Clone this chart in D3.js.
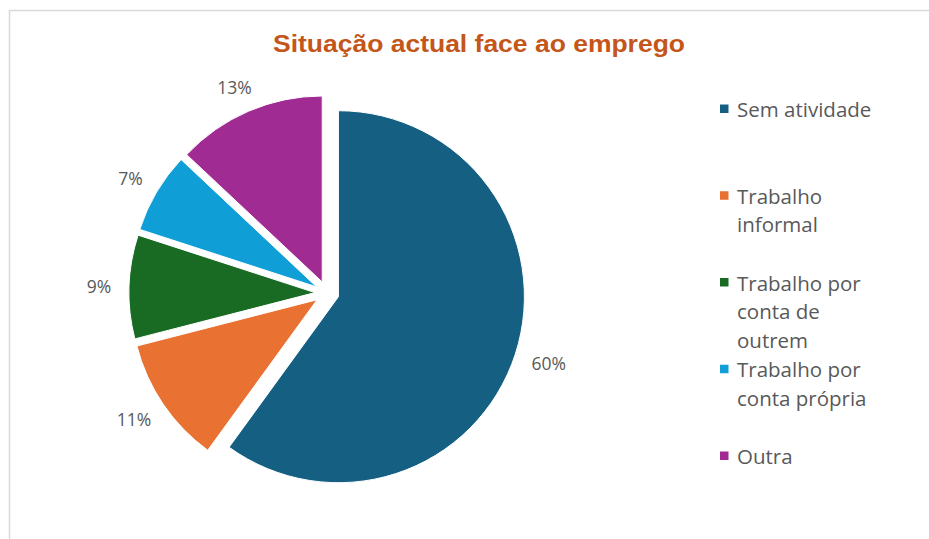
<!DOCTYPE html>
<html>
<head>
<meta charset="utf-8">
<script src="https://cdn.jsdelivr.net/npm/d3@7"></script>
<style>
  html, body { margin: 0; padding: 0; background: #ffffff; }
  svg { display: block; }
</style>
</head>
<body>
<svg id="chart" width="929" height="539"></svg>
<script>
// ---- data ----
const title = "Situação actual face ao emprego";
const categories = ["Sem atividade", "Trabalho informal", "Trabalho por conta de outrem", "Trabalho por conta própria", "Outra"];
const values = [60, 11, 9, 7, 13];
const colors = ["#156082", "#E97132", "#196B24", "#0F9ED5", "#A02B93"];

// ---- layout ----
const W = 929, H = 539;
const cx = 327, cy = 293, R = 186, explode = 12;
const svg = d3.select("#chart");

// chart area border
svg.append("rect")
  .attr("x", 9.5).attr("y", 10.5)
  .attr("width", W + 20).attr("height", H + 20)
  .attr("fill", "#ffffff")
  .attr("stroke", "#d9d9d9").attr("stroke-width", 1.5);

// title
const t = svg.append("text")
  .attr("x", 479).attr("y", 52)
  .attr("text-anchor", "middle")
  .attr("font-family", "'Liberation Sans Narrow', 'Liberation Sans', Arial, sans-serif")
  .attr("font-weight", "bold")
  .attr("font-size", 24)
  .attr("fill", "#C4561A")
  .text(title);
t.attr("textLength", 412).attr("lengthAdjust", "spacingAndGlyphs");

// pie
const pie = d3.pie().sort(null).value(d => d)(values);
const arc = d3.arc().innerRadius(0).outerRadius(R);
const g = svg.append("g").attr("transform", `translate(${cx},${cy})`);

const total = d3.sum(values);
pie.forEach((p, i) => {
  const mid = (p.startAngle + p.endAngle) / 2;
  const dx = Math.sin(mid), dy = -Math.cos(mid);
  g.append("path")
    .attr("d", arc(p))
    .attr("transform", `translate(${dx * explode},${dy * explode})`)
    .attr("fill", colors[i])
    .attr("stroke", "#ffffff").attr("stroke-width", 1);

  const label = d3.format(".0%")(values[i] / total);
  const txt = g.append("text")
    .attr("font-family", "'Open Sans', sans-serif")
    .attr("font-size", 17.5)
    .attr("fill", "#595959")
    .attr("text-anchor", "middle")
    .attr("dominant-baseline", "central")
    .text(label);
  const w = txt.node().getComputedTextLength();
  const h = 18;
  const L0 = 216;
  txt.attr("x", dx * L0 + dx * w / 2).attr("y", dy * L0 + dy * h / 2);
});

// legend
const legX = 720, legTextX = 737, legY0 = 109, legStep = 86.75, lineH = 28.7, wrapW = 145;
const leg = svg.append("g");
categories.forEach((c, i) => {
  const y = legY0 + i * legStep;
  leg.append("rect")
    .attr("x", legX).attr("y", y - 4.5)
    .attr("width", 8.5).attr("height", 8.5)
    .attr("fill", colors[i]);
  const txt = leg.append("text")
    .attr("x", legTextX).attr("y", y)
    .attr("font-family", "'Open Sans', sans-serif")
    .attr("font-size", 20.5)
    .attr("fill", "#595959")
    .attr("dominant-baseline", "central");
  // word wrap
  const words = c.split(" ");
  let line = [], lineNo = 0;
  let ts = txt.append("tspan").attr("x", legTextX).attr("y", y);
  words.forEach(wd => {
    line.push(wd);
    ts.text(line.join(" "));
    if (ts.node().getComputedTextLength() > wrapW && line.length > 1) {
      line.pop();
      ts.text(line.join(" "));
      line = [wd];
      lineNo++;
      ts = txt.append("tspan").attr("x", legTextX).attr("y", y + lineNo * lineH).text(wd);
    }
  });
});
</script>
</body>
</html>
